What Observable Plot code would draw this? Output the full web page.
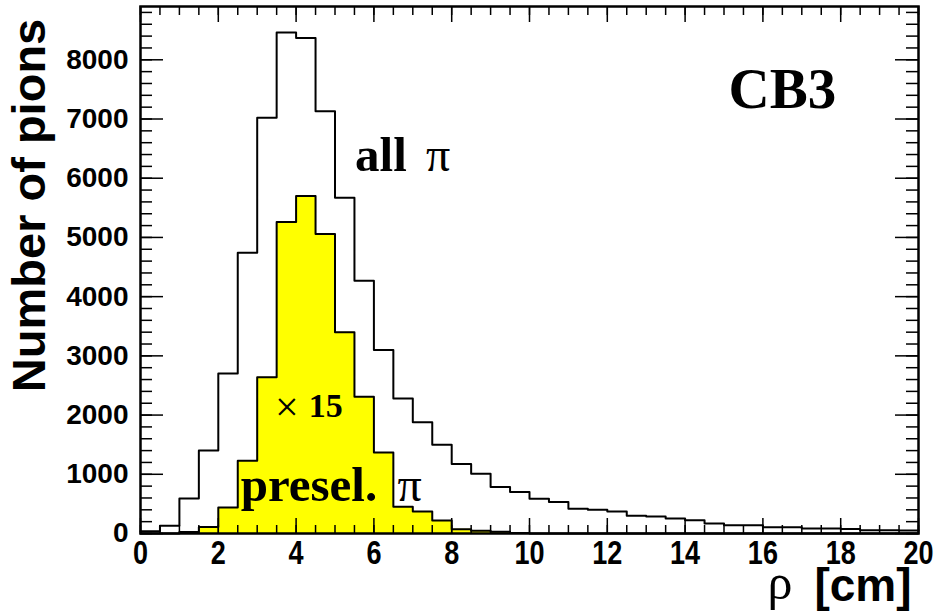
<!DOCTYPE html>
<html><head><meta charset="utf-8">
<script src="https://cdn.jsdelivr.net/npm/d3@7"></script>
<script src="https://cdn.jsdelivr.net/npm/@observablehq/plot@0.6"></script>
<style>html,body{margin:0;padding:0;background:#fff;}</style>
</head><body><div id="chart"></div>
<script>
// ---- data ----
const binLow = [0,0.5,1,1.5,2,2.5,3,3.5,4,4.5,5,5.5,6,6.5,7,7.5,8,8.5,9,9.5,
                10,10.5,11,11.5,12,12.5,13,13.5,14,14.5,15,15.5,16,16.5,17,17.5,18,18.5,19,19.5];
const binWidth = 0.5;
const allPions = [40,130,590,1400,2700,4740,7020,8460,8370,7130,5670,4270,3100,2280,1880,1500,1175,1010,785,700,
                  585,530,420,400,370,300,285,255,225,170,140,140,105,105,85,85,75,55,55,50];
// preselected pions, already multiplied by 15 as drawn
const preselPions = [0,0,25,110,440,1230,2640,5260,5700,5060,3400,2310,1370,450,370,220,72,48,28,10,
                     0,0,0,0,0,0,0,0,0,0,0,0,0,0,0,0,0,0,0,0];
const xTickLabels = [0,2,4,6,8,10,12,14,16,18,20];
const yTickLabels = [0,1000,2000,3000,4000,5000,6000,7000,8000];

// ---- layout ----
const W = 937, H = 615, mL = 140, mR = 19, mT = 6, mB = 82;
const pw = W - mL - mR, ph = H - mT - mB;
const serif = "'Liberation Serif','Times New Roman',Times,serif";
const sans = "'Liberation Sans',Arial,Helvetica,sans-serif";

function steps(vals) {
  const pts = binLow.map((x, i) => ({x, y: vals[i]}));
  pts.push({x: binLow[binLow.length - 1] + binWidth, y: vals[vals.length - 1]});
  return pts;
}
const allPts = steps(allPions);
const presPts = steps(preselPions);
const xMinor = d3.range(0, 20.001, 0.5);
const yMinor = d3.range(0, 8900, 200);

const plot = Plot.plot({
  width: W, height: H,
  marginLeft: mL, marginRight: mR, marginTop: mT, marginBottom: mB,
  x: {domain: [0, 20]},
  y: {domain: [0, 8900]},
  style: {background: "white", fontFamily: sans, color: "black"},
  marks: [
    Plot.areaY(presPts, {x: "x", y: "y", curve: "step-after", fill: "#ffff00"}),
    Plot.lineY(presPts, {x: "x", y: "y", curve: "step-after", stroke: "black", strokeWidth: 2}),
    Plot.lineY(allPts, {x: "x", y: "y", curve: "step-after", stroke: "black", strokeWidth: 2}),
    // inside ticks (bottom / top)
    Plot.tickX(xMinor, {x: d => d, insetTop: ph - 8, stroke: "black", strokeWidth: 1.5}),
    Plot.tickX(xTickLabels, {x: d => d, insetTop: ph - 15, stroke: "black", strokeWidth: 1.5}),
    Plot.tickX(xMinor, {x: d => d, insetBottom: ph - 9, stroke: "black", strokeWidth: 1.5}),
    Plot.tickX(xTickLabels, {x: d => d, insetBottom: ph - 16, stroke: "black", strokeWidth: 1.5}),
    // inside ticks (left / right)
    Plot.tickY(yMinor, {y: d => d, insetRight: pw - 12, stroke: "black", strokeWidth: 1.5}),
    Plot.tickY(yTickLabels, {y: d => d, insetRight: pw - 23, stroke: "black", strokeWidth: 1.5}),
    Plot.tickY(yMinor, {y: d => d, insetLeft: pw - 12, stroke: "black", strokeWidth: 1.5}),
    Plot.tickY(yTickLabels, {y: d => d, insetLeft: pw - 23, stroke: "black", strokeWidth: 1.5}),
    Plot.axisX(xTickLabels, {tickSize: 0, tickPadding: 7, fontSize: 33, fontWeight: "bold", tickFormat: "d", label: null}),
    Plot.axisY(yTickLabels, {tickSize: 0, tickPadding: 12, fontSize: 28, fontWeight: "bold", tickFormat: "d", label: null}),
    Plot.frame({stroke: "black", strokeWidth: 2.5}),
    // annotations
    Plot.text(["CB3"], {x: 16.5, y: 7500, text: d => d, fontFamily: serif, fontWeight: "bold", fontSize: 57, fill: "black"}),
    Plot.text(["all"], {x: 6.18, y: 6380, text: d => d, fontFamily: serif, fontWeight: "bold", fontSize: 49, fill: "black"}),
    Plot.text(["π"], {x: 7.65, y: 6380, text: d => d, fontFamily: serif, fontSize: 48, fill: "black"}),
    Plot.text(["×"], {x: 3.76, y: 2130, text: d => d, fontFamily: serif, fontSize: 42, fill: "black"}),
    Plot.text(["15"], {x: 4.76, y: 2150, text: d => d, fontFamily: serif, fontWeight: "bold", fontSize: 34, fill: "black"}),
    Plot.text(["presel."], {x: 4.33, y: 810, text: d => d, fontFamily: serif, fontWeight: "bold", fontSize: 49, fill: "black"}),
    Plot.text(["π"], {x: 6.92, y: 810, text: d => d, fontFamily: serif, fontSize: 48, fill: "black"}),
    // axis titles (placed in data space, outside the frame)
    Plot.text(["Number of pions"], {x: -2.85, y: 5540, rotate: -90, text: d => d,
      fontFamily: sans, fontWeight: "bold", fontSize: 47, fill: "black"}),
    Plot.text(["[cm]"], {frameAnchor: "bottom-right", dx: -7, dy: 67, textAnchor: "end", text: d => d,
      fontFamily: sans, fontWeight: "bold", fontSize: 46, fill: "black"}),
    Plot.text(["ρ"], {frameAnchor: "bottom-right", dx: -126, dy: 65, text: d => d,
      fontFamily: serif, fontSize: 50, fill: "black"})
  ]
});

// condense x tick labels slightly, as in the reference
d3.select(plot).selectAll('g[aria-label="x-axis tick label"] text').each(function() {
  const t = this.getAttribute("transform");
  if (t) this.setAttribute("transform", t + " scale(0.82,1)");
});
document.getElementById("chart").appendChild(plot);
</script>
</body></html>
